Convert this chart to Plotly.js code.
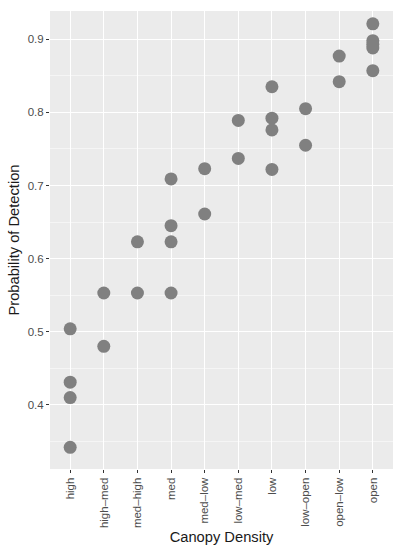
<!DOCTYPE html>
<html>
<head>
<meta charset="utf-8">
<script src="https://cdn.plot.ly/plotly-3.0.1.min.js"></script>
<style>html,body{margin:0;padding:0;background:#fff;}#chart{width:402px;height:550px;}</style>
</head>
<body>
<div id="chart"></div>
<script>
var categories = ["high","high-med","med-high","med","med-low","low-med","low","low-open","open-low","open"];
var tickLabels = ["high","high\u2013med","med\u2013high","med","med\u2013low","low\u2013med","low","low\u2013open","open\u2013low","open"];
var high = [0.504, 0.431, 0.410, 0.342];
var highMed = [0.553, 0.480];
var medHigh = [0.553, 0.623];
var med = [0.553, 0.623, 0.645, 0.709];
var medLow = [0.723, 0.661];
var lowMed = [0.789, 0.737];
var low = [0.835, 0.792, 0.776, 0.722];
var lowOpen = [0.805, 0.755];
var openLow = [0.877, 0.842];
var open = [0.921, 0.898, 0.893, 0.888, 0.857];
var groups = [high, highMed, medHigh, med, medLow, lowMed, low, lowOpen, openLow, open];

var xs = [], ys = [];
groups.forEach(function(g, i){ g.forEach(function(v){ xs.push(categories[i]); ys.push(v); }); });

var trace = {
  x: xs, y: ys, type: 'scatter', mode: 'markers',
  marker: {color: '#808080', size: 13, line: {width: 0}},
  hoverinfo: 'x+y'
};
var layout = {
  width: 402, height: 550,
  margin: {l: 50, r: 9, t: 11, b: 81},
  paper_bgcolor: '#ffffff', plot_bgcolor: '#ebebeb',
  showlegend: false,
  font: {family: 'Liberation Sans, Arial, sans-serif', color: '#4d4d4d'},
  xaxis: {
    type: 'category', categoryorder: 'array', categoryarray: categories,
    tickvals: categories, ticktext: tickLabels,
    range: [-0.6, 9.6], tickangle: -90,
    showgrid: true, gridcolor: '#ffffff', gridwidth: 1.1,
    zeroline: false, showline: false,
    ticks: 'outside', ticklen: 3, tickwidth: 1, tickcolor: '#333333',
    tickfont: {size: 11.5, color: '#4d4d4d'},
    title: {text: 'Canopy Density', font: {size: 14.7, color: '#1a1a1a'}, standoff: 4}
  },
  yaxis: {
    range: [0.3123, 0.9386], dtick: 0.1, tick0: 0, tickformat: '.1f',
    showgrid: true, gridcolor: '#ffffff', gridwidth: 1.1,
    minor: {dtick: 0.05, tick0: 0, showgrid: true, gridcolor: '#ffffff', gridwidth: 0.5, ticks: ''},
    zeroline: false, showline: false,
    ticks: 'outside', ticklen: 3, tickwidth: 1, tickcolor: '#333333',
    tickfont: {size: 11.5, color: '#4d4d4d'},
    title: {text: 'Probability of Detection', font: {size: 14.7, color: '#1a1a1a'}, standoff: 4}
  }
};
Plotly.newPlot('chart', [trace], layout, {displayModeBar: false, staticPlot: true});
</script>
</body>
</html>
